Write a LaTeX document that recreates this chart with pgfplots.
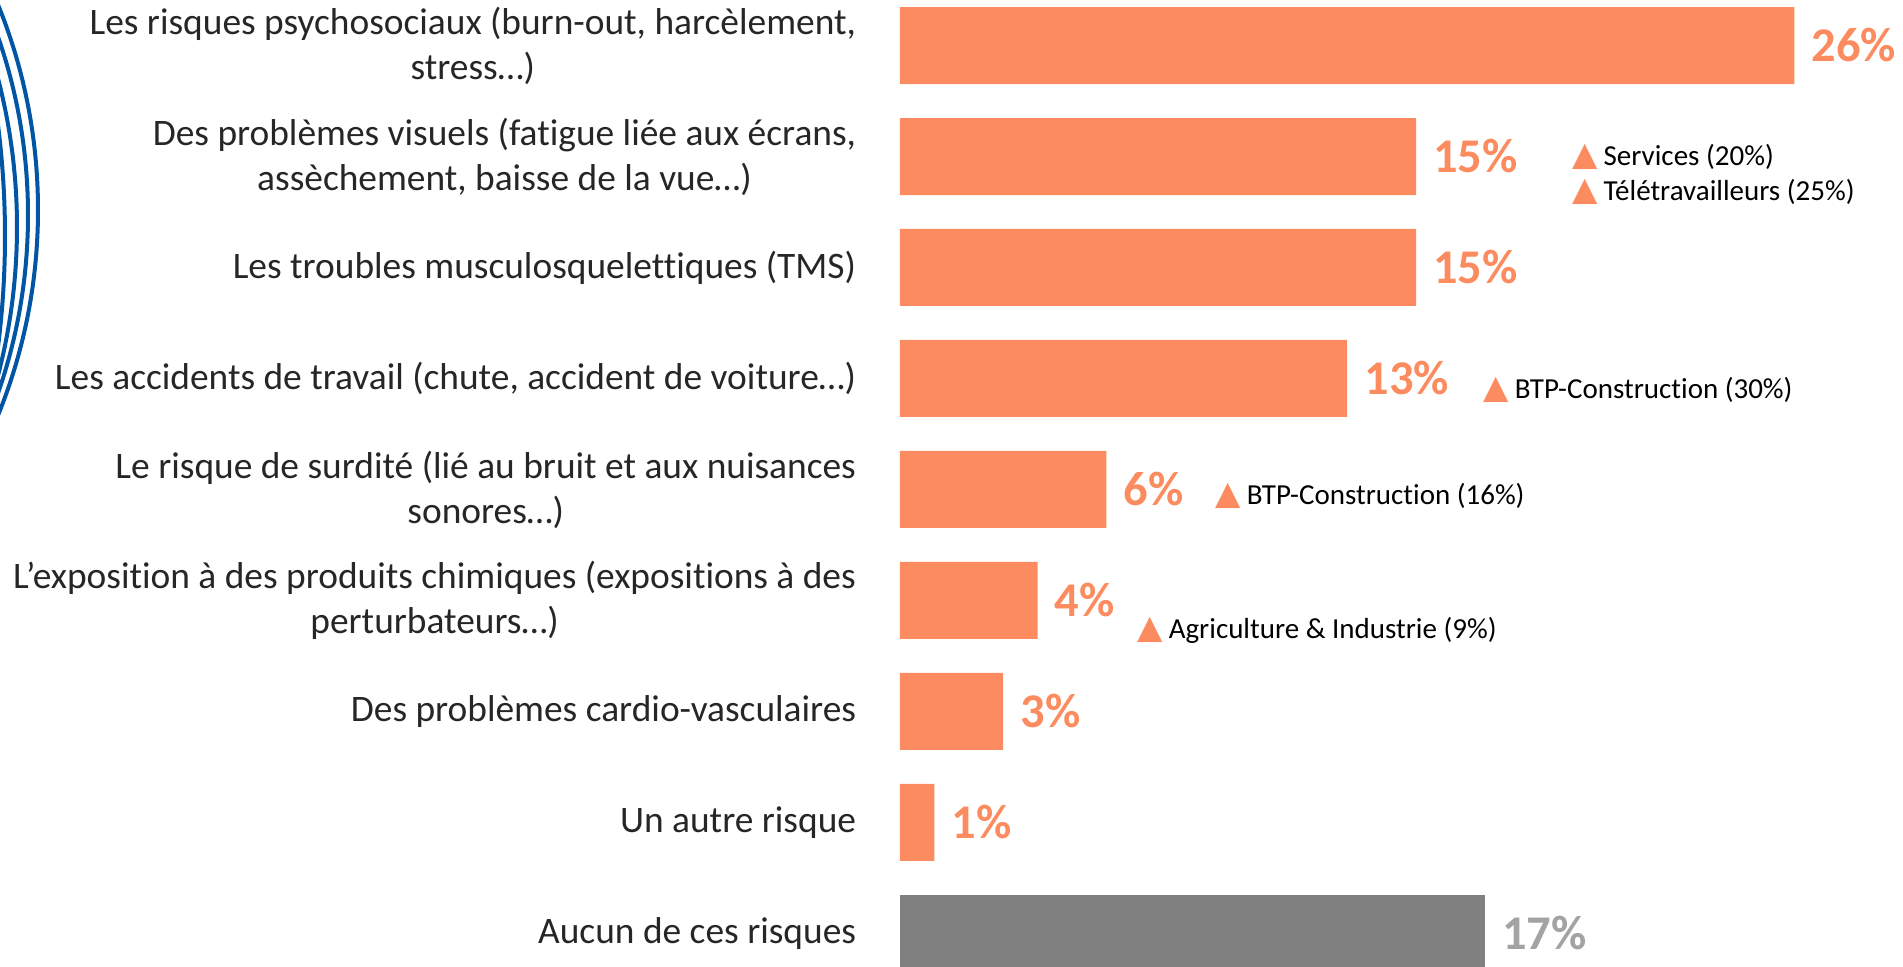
\documentclass[border=0pt]{standalone}
\usepackage{fontspec}
\setmainfont[Ligatures={NoCommon}]{Carlito}
\newfontfamily\sym{DejaVu Sans}
\usepackage{pgfplots}
\pgfplotsset{compat=1.18}
\definecolor{risqOrange}{HTML}{FC8C5F}
\definecolor{risqGris}{HTML}{808080}
\definecolor{risqGrisTxt}{HTML}{A3A3A6}
\definecolor{risqBleu}{HTML}{0055A5}
\definecolor{risqTxt}{HTML}{262626}

\newcommand{\tri}{{\sym\fontsize{16.5}{16.5}\selectfont\color{risqOrange}▲}\hspace{3pt}}

\begin{document}
\begin{tikzpicture}
\useasboundingbox (0,0) rectangle (951.5pt,483.5pt);
% arcs bleus a gauche
\begin{scope}
\clip (0,0) rectangle (951.5pt,483.5pt);
\draw[risqBleu,line width=2pt] (-253.5pt,378.5pt) circle[radius=272.5pt];
\draw[risqBleu,line width=2pt] (-257pt,376pt) circle[radius=271pt];
\draw[risqBleu,line width=2pt] (-284pt,370pt) circle[radius=292.5pt];
\draw[risqBleu,line width=2pt] (-431pt,365.5pt) circle[radius=433.5pt];
\end{scope}
\begin{axis}[
  at={(450pt,0pt)},anchor=south west,
  scale only axis,width=501.5pt,height=483.5pt,
  xbar,bar width=38.5pt,bar shift=0pt,
  xmin=0,xmax=29.157,ymin=-0.41,ymax=8.302,y dir=reverse,
  axis line style={draw=none},tick style={draw=none},
  xtick=\empty,ytick={0,...,8},
  yticklabels={
    {Les risques psychosociaux (burn-out, harcèlement,\\stress…)},
    {Des problèmes visuels (fatigue liée aux écrans,\\assèchement, baisse de la vue…)},
    {Les troubles musculosquelettiques (TMS)},
    {Les accidents de travail (chute, accident de voiture…)},
    {Le risque de surdité (lié au bruit et aux nuisances\\sonores…)},
    {L’exposition à des produits chimiques (expositions à des\\perturbateurs…)},
    {Des problèmes cardio-vasculaires},
    {Un autre risque},
    {Aucun de ces risques}},
  yticklabel style={anchor=east,inner sep=0pt,xshift=-17.5pt,align=center,
    text=risqTxt,font=\fontsize{18.7}{22.5}\selectfont},
  nodes near coords={\pgfmathprintnumber[assume math mode=true]{\pgfplotspointmeta}\%},
  nodes near coords style={anchor=west,inner sep=0pt,xshift=8.5pt,
    font=\bfseries\fontsize{24.2}{24.2}\selectfont},
  clip=false,
]
\addplot[draw=none,fill=risqOrange,nodes near coords style={text=risqOrange}] coordinates {
  (26,0) (15,1) (15,2) (13,3) (6,4) (4,5) (3,6) (1,7)};
\addplot[draw=none,fill=risqGris,nodes near coords style={text=risqGrisTxt}] coordinates {
  (17,8)};
\begin{scope}[every node/.style={anchor=west,inner sep=0pt,text=black,font=\fontsize{14.5}{14.5}\selectfont}]
\node at (axis cs:19.53,1.005) {\tri Services (20\%)};
\node at (axis cs:19.53,1.32) {\tri Télétravailleurs (25\%)};
\node at (axis cs:16.95,3.10) {\tri BTP-Construction (30\%)};
\node at (axis cs:9.16,4.06) {\tri BTP-Construction (16\%)};
\node at (axis cs:6.89,5.27) {\tri Agriculture \& Industrie (9\%)};
\end{scope}
\end{axis}
\end{tikzpicture}
\end{document}
